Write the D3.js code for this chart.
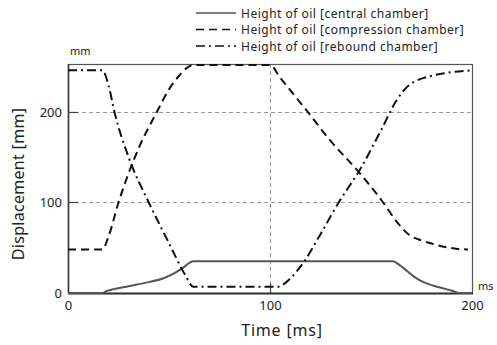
<!DOCTYPE html>
<html>
<head>
<meta charset="utf-8">
<script src="https://cdn.jsdelivr.net/npm/d3@7"></script>
<style>
  html, body { margin: 0; padding: 0; background: #fff; }
  svg { display: block; }
  text { font-family: "Noto Sans", "Open Sans", sans-serif; fill: #222; }
</style>
</head>
<body>
<svg id="chart" width="497" height="345"></svg>
<script>
// Time axis (ms) and tick values
const xTicks = [0, 100, 200];
const yTicks = [0, 100, 200];

// Height of oil in the central chamber [mm]
const centralT = [0, 17, 19, 22, 30, 40, 47, 52, 57, 62, 100, 161, 164, 168, 172, 176, 181, 186, 190, 194, 200];
const centralH = [0, 0, 2, 4, 7.5, 12, 16, 21, 28, 35, 35, 35, 31, 24, 17, 12, 8, 5, 2.5, 0, 0];

// Height of oil in the compression chamber [mm]
const compT = [0, 17, 20, 25, 35, 44, 50, 55, 59, 62, 100, 105, 118, 130, 145, 156, 163, 169, 175, 181, 186, 192, 198];
const compH = [48, 48, 62, 100, 160, 200, 225, 240, 249, 252, 252, 238, 202, 168, 131, 100, 78, 64, 58, 54, 51, 49, 48];

// Height of oil in the rebound chamber [mm]
const rebT = [0, 17, 20, 23, 30, 40, 50, 58, 62, 100, 104, 107, 110, 117, 125, 134, 145, 155, 163, 168, 172, 180, 190, 200];
const rebH = [246, 246, 230, 200, 150, 100, 55, 20, 7, 7, 7, 10, 16, 35, 65, 100, 138, 180, 214, 228, 234, 240, 244, 246];

const seriesNames = [
  "Height of oil [central chamber]",
  "Height of oil [compression chamber]",
  "Height of oil [rebound chamber]"
];

const svg = d3.select("#chart");
const m = { left: 68, right: 472, top: 64, bottom: 293 };

const x = d3.scaleLinear().domain([0, 200]).range([m.left, m.right]);
const y = d3.scaleLinear().domain([0, 253]).range([m.bottom, m.top]);

// dashed grid
const grid = svg.append("g").attr("stroke", "#999").attr("stroke-width", 1)
  .attr("stroke-dasharray", "4,3");
grid.selectAll("line.h").data(yTicks.filter(d => d > 0)).join("line")
  .attr("x1", m.left).attr("x2", m.right)
  .attr("y1", d => Math.round(y(d)) + 0.5).attr("y2", d => Math.round(y(d)) + 0.5);
grid.append("line")
  .attr("x1", Math.round(x(100)) + 0.5).attr("x2", Math.round(x(100)) + 0.5)
  .attr("y1", m.top).attr("y2", m.bottom);

// frame
svg.append("rect")
  .attr("x", m.left + 0.5).attr("y", m.top + 0.5)
  .attr("width", m.right - m.left).attr("height", m.bottom - m.top)
  .attr("fill", "none").attr("stroke", "#555").attr("stroke-width", 1.2);
svg.append("line").attr("x1", m.left).attr("x2", m.right + 1)
  .attr("y1", m.bottom + 0.5).attr("y2", m.bottom + 0.5)
  .attr("stroke", "#333").attr("stroke-width", 2);
svg.append("line").attr("x1", m.left + 0.5).attr("x2", m.left + 0.5)
  .attr("y1", m.top).attr("y2", m.bottom)
  .attr("stroke", "#333").attr("stroke-width", 1.5);

// axes
const xAxis = d3.axisBottom(x).tickValues(xTicks).tickSize(0).tickPadding(8);
const gx = svg.append("g").attr("transform", `translate(0,${m.bottom})`).call(xAxis);
gx.select(".domain").remove();
gx.selectAll("text").style("font-size", "13px").attr("fill", "#333");

const yAxis = d3.axisLeft(y).tickValues(yTicks).tickSize(0).tickPadding(6);
const gy = svg.append("g").attr("transform", `translate(${m.left},0)`).call(yAxis);
gy.select(".domain").remove();
gy.selectAll("text").style("font-size", "13px").attr("fill", "#333");
// short ticks inside the frame
svg.append("g").selectAll("line").data(yTicks.filter(d => d > 0)).join("line")
  .attr("x1", m.left).attr("x2", m.left + 10)
  .attr("y1", d => Math.round(y(d)) + 0.5).attr("y2", d => Math.round(y(d)) + 0.5)
  .attr("stroke", "#444").attr("stroke-width", 1.2);
svg.append("line")
  .attr("x1", Math.round(x(100)) + 0.5).attr("x2", Math.round(x(100)) + 0.5)
  .attr("y1", m.bottom - 10).attr("y2", m.bottom)
  .attr("stroke", "#444").attr("stroke-width", 1.2);

// unit labels and axis titles
svg.append("text").attr("x", 70).attr("y", 55).style("font-size", "11px").attr("fill", "#333").text("mm");
svg.append("text").attr("x", 478).attr("y", 290).style("font-size", "11px").attr("fill", "#333").text("ms");
svg.append("text").attr("x", 282).attr("y", 336).attr("text-anchor", "middle")
  .style("font-size", "16px").style("letter-spacing", "0.8px").text("Time [ms]");
svg.append("text").attr("transform", "translate(24,184) rotate(-90)").attr("text-anchor", "middle")
  .style("font-size", "16px").style("letter-spacing", "0.3px").text("Displacement [mm]");

// curves
const styles = [
  { color: "#555", width: 2, dash: null },
  { color: "#111", width: 2, dash: "8,5" },
  { color: "#111", width: 2, dash: "9,4,2,4" }
];
const series = [
  centralT.map((t, i) => [t, centralH[i]]),
  compT.map((t, i) => [t, compH[i]]),
  rebT.map((t, i) => [t, rebH[i]])
];
const line = d3.line().x(d => x(d[0])).y(d => y(d[1])).curve(d3.curveMonotoneX);
svg.append("g").selectAll("path").data(series).join("path")
  .attr("d", line)
  .attr("fill", "none")
  .attr("stroke", (d, i) => styles[i].color)
  .attr("stroke-width", (d, i) => styles[i].width)
  .attr("stroke-dasharray", (d, i) => styles[i].dash);

// legend
const lg = svg.append("g");
seriesNames.forEach((name, i) => {
  const ly = 13 + i * 16.5;
  lg.append("line").attr("x1", 196).attr("x2", 236).attr("y1", ly).attr("y2", ly)
    .attr("stroke", styles[i].color).attr("stroke-width", 1.6)
    .attr("stroke-dasharray", styles[i].dash);
  lg.append("text").attr("x", 241).attr("y", ly + 4.5).style("font-size", "12px")
    .style("letter-spacing", "0.5px").attr("fill", "#333").text(name);
});
</script>
</body>
</html>
